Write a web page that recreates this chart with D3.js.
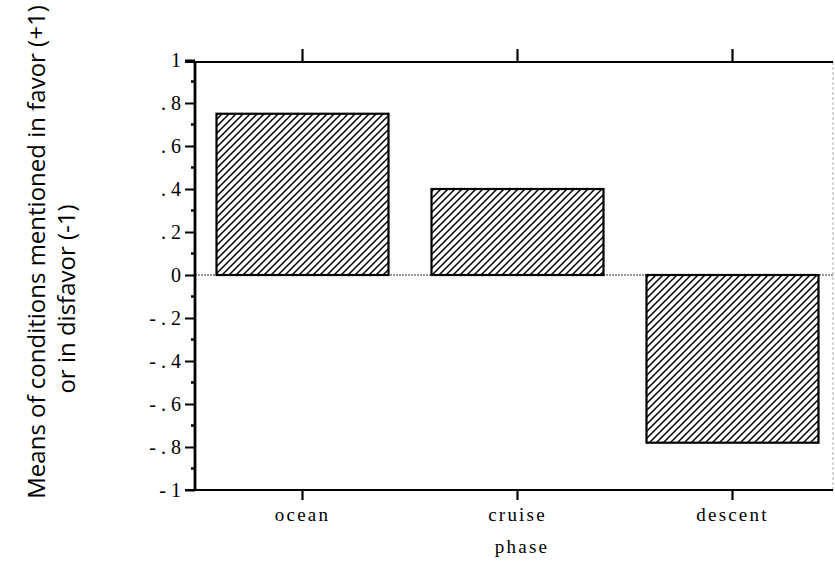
<!DOCTYPE html>
<html>
<head>
<meta charset="utf-8">
<script src="https://cdn.jsdelivr.net/npm/d3@7"></script>
<style>
  html, body { margin: 0; padding: 0; background: #fff; }
  svg { display: block; }
</style>
</head>
<body>
<svg id="chart" width="835" height="565"></svg>
<script>
const categories = ["ocean", "cruise", "descent"];
const values = [0.75, 0.40, -0.78];
const yTickValues = [1, 0.8, 0.6, 0.4, 0.2, 0, -0.2, -0.4, -0.6, -0.8, -1];
const yTickLabels = ["1", ". 8", ". 6", ". 4", ". 2", "0", "- . 2", "- . 4", "- . 6", "- . 8", "- 1"];
const yMinorTicks = [0.9, 0.7, 0.5, 0.3, 0.1, -0.1, -0.3, -0.5, -0.7, -0.9];
const xTitle = "phase";
const yTitle1 = "Means of conditions mentioned in favor (+1)";
const yTitle2 = "or in disfavor (-1)";

(function () {
const svg = d3.select("#chart");
const pLeft = 195, pRight = 833, pTop = 62, pBottom = 490;

const x = d3.scaleBand().domain(categories).range([195, 840]).paddingInner(0.2).paddingOuter(0.1);
const y = d3.scaleLinear().domain([-1, 1]).range([490, 60]);

// hatch pattern
const defs = svg.append("defs");
const pat = defs.append("pattern")
  .attr("id", "hatch").attr("patternUnits", "userSpaceOnUse")
  .attr("width", 7).attr("height", 7);
pat.append("rect").attr("width", 7).attr("height", 7).attr("fill", "#fff");
pat.append("path")
  .attr("d", "M-1,1 l2,-2 M0,7 l7,-7 M6,8 l2,-2")
  .attr("stroke", "#000").attr("stroke-width", 1.5);

const serif = "'Liberation Serif', 'DejaVu Serif', serif";
const sans = "'Open Sans', 'Noto Sans', 'DejaVu Sans', sans-serif";

// zero line
svg.append("line")
  .attr("x1", pLeft).attr("x2", pRight)
  .attr("y1", y(0)).attr("y2", y(0))
  .attr("stroke", "#777").attr("stroke-width", 1.3).attr("stroke-dasharray", "2,1");

// bars
svg.append("g").selectAll("rect").data(categories).join("rect")
  .attr("x", d => x(d))
  .attr("width", x.bandwidth())
  .attr("y", (d, i) => y(Math.max(0, values[i])))
  .attr("height", (d, i) => Math.abs(y(values[i]) - y(0)))
  .attr("fill", "url(#hatch)")
  .attr("stroke", "#000").attr("stroke-width", 2.2);

// right border (faint)
svg.append("line")
  .attr("x1", pRight).attr("x2", pRight).attr("y1", pTop).attr("y2", pBottom)
  .attr("stroke", "#aaa").attr("stroke-width", 1).attr("stroke-dasharray", "3,2");

// top border
svg.append("line")
  .attr("x1", pLeft - 10).attr("x2", pRight).attr("y1", pTop).attr("y2", pTop)
  .attr("stroke", "#000").attr("stroke-width", 2);

// top ticks at categories
svg.append("g").selectAll("line").data(categories).join("line")
  .attr("x1", d => x(d) + x.bandwidth() / 2).attr("x2", d => x(d) + x.bandwidth() / 2)
  .attr("y1", pTop).attr("y2", pTop - 13)
  .attr("stroke", "#000").attr("stroke-width", 2.2);

// left axis
const yAxis = d3.axisLeft(y)
  .tickValues(yTickValues)
  .tickFormat((d, i) => yTickLabels[i])
  .tickSize(10).tickPadding(4);
const gy = svg.append("g").attr("transform", `translate(${pLeft},0)`).call(yAxis);
gy.attr("font-size", null).attr("font-family", null);
gy.select(".domain").attr("stroke", "#000").attr("stroke-width", 2.8).attr("d", `M0,${pTop}V${pBottom}`);
gy.selectAll(".tick line").attr("stroke", "#000").attr("stroke-width", 2);
gy.selectAll(".tick text")
  .style("font-family", serif).style("font-size", "20px").attr("fill", "#000");

// minor ticks
svg.append("g").selectAll("line").data(yMinorTicks).join("line")
  .attr("x1", pLeft).attr("x2", pLeft - 4)
  .attr("y1", d => y(d)).attr("y2", d => y(d))
  .attr("stroke", "#000").attr("stroke-width", 2.5);

// bottom axis
const xAxis = d3.axisBottom(x).tickSize(10).tickPadding(8);
const gx = svg.append("g").attr("transform", `translate(0,${pBottom})`).call(xAxis);
gx.attr("font-size", null).attr("font-family", null);
gx.select(".domain").attr("stroke", "#000").attr("stroke-width", 2.2).attr("d", `M${pLeft - 10},0H${pRight}`);
gx.selectAll(".tick line").attr("stroke", "#000").attr("stroke-width", 2.2);
gx.selectAll(".tick text")
  .style("font-family", serif).style("font-size", "19px").attr("letter-spacing", 2.2).attr("fill", "#000");

// x title
svg.append("text")
  .attr("x", 522).attr("y", 553).attr("text-anchor", "middle")
  .attr("font-family", serif).attr("font-size", 19).attr("letter-spacing", 2.2)
  .text(xTitle);

// y titles
svg.append("text")
  .attr("transform", "translate(45,252) rotate(-90)")
  .attr("text-anchor", "middle")
  .attr("font-family", sans).attr("font-size", 24)
  .text(yTitle1);
svg.append("text")
  .attr("transform", "translate(75,299) rotate(-90)")
  .attr("text-anchor", "middle")
  .attr("font-family", sans).attr("font-size", 24)
  .text(yTitle2);
})();
</script>
</body>
</html>
